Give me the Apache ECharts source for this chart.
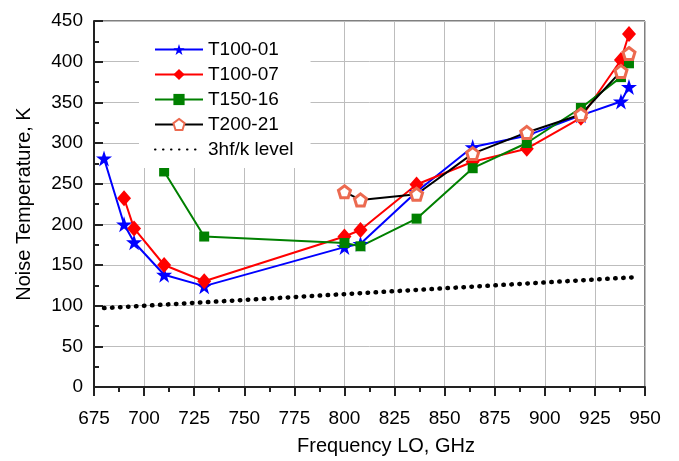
<!DOCTYPE html>
<html>
<head>
<meta charset="utf-8">
<script src="https://cdn.jsdelivr.net/npm/echarts@6/dist/echarts.min.js"></script>
<style>
  html, body { margin: 0; padding: 0; background: #fff; }
  #chart { width: 679px; height: 461px; }
</style>
</head>
<body>
<div id="chart"></div>
<script>
// values
const freqT10001 = [680, 690, 695, 710, 730, 800, 808, 836, 864, 891, 918, 938, 942];
const tempT10001 = [281, 200, 178, 138, 124, 172, 176, 240, 295, 309, 334, 351, 369];

const freqT10007 = [690, 695, 710, 730, 800, 808, 836, 864, 891, 918, 938, 942];
const tempT10007 = [232, 195, 150, 130, 185, 193, 249, 277, 293, 331, 402, 434];

const freqT15016 = [710, 730, 800, 808, 836, 864, 891, 918, 938, 942];
const tempT15016 = [265, 185, 177, 173, 207, 269, 300, 343, 381, 398];

const freqT20021 = [800, 808, 836, 864, 891, 918, 938, 942];
const tempT20021 = [240, 230, 237, 287, 313, 335, 388, 410];

const freqLevel = [680, 945];
const tempLevel = [97, 135];

const xTicks = { min: 675, max: 950, step: 25 };
const yTicks = { min: 0, max: 450, step: 50 };

const FONT = "'Liberation Sans', Arial, sans-serif";
const STAR = 'path://M12,0 L14.9,8.6 L24,8.6 L16.6,14 L19.4,22.6 L12,17.3 L4.6,22.6 L7.4,14 L0,8.6 L9.1,8.6 Z';
const PENTA = 'path://M10,0 L20,7.3 L16.2,19 L3.8,19 L0,7.3 Z';

function pairs(xs, ys) {
    return xs.map((x, i) => [x, ys[i]]);
}

function lineSeries(name, xs, ys, lineColor, extra) {
    return Object.assign({
        name: name,
        type: 'line',
        data: pairs(xs, ys),
        lineStyle: { color: lineColor, width: 2 },
        itemStyle: { color: lineColor },
        symbolSize: 12,
        animation: false
    }, extra);
}

const chart = echarts.init(document.getElementById('chart'), null, { renderer: 'canvas' });

chart.setOption({
    backgroundColor: '#fff',
    animation: false,
    textStyle: { fontFamily: FONT },
    grid: { left: 94, right: 34, top: 21, bottom: 71, show: true, borderColor: '#000', borderWidth: 1 },
    legend: {
        left: 139,
        top: 22,
        orient: 'vertical',
        backgroundColor: '#fff',
        padding: [18, 17, 9, 15],
        itemWidth: 48,
        itemHeight: 14,
        itemGap: 6,
        textStyle: { fontSize: 19, color: '#000', fontFamily: FONT },
        data: ['T100-01', 'T100-07', 'T150-16', 'T200-21', '3hf/k level']
    },
    xAxis: {
        type: 'value',
        min: xTicks.min,
        max: xTicks.max,
        interval: xTicks.step,
        name: 'Frequency LO, GHz',
        nameLocation: 'middle',
        nameGap: 49,
        nameTextStyle: { fontSize: 20, color: '#000', fontFamily: FONT, padding: [0, 0, 0, 33] },
        axisLine: { show: true, onZero: false, lineStyle: { color: '#222', width: 2 } },
        axisTick: { show: true, inside: false, length: 9, lineStyle: { color: '#222', width: 2 } },
        minorTick: { show: true, splitNumber: 2, length: 5, lineStyle: { color: '#222', width: 2 } },
        axisLabel: { fontSize: 19, color: '#000', margin: 22, fontFamily: FONT },
        splitLine: { show: true, lineStyle: { color: '#bdbdbd', width: 1 } }
    },
    yAxis: {
        type: 'value',
        min: yTicks.min,
        max: yTicks.max,
        interval: yTicks.step,
        name: 'Noise Temperature, K',
        nameLocation: 'middle',
        nameGap: 60,
        nameTextStyle: { fontSize: 20, color: '#000', fontFamily: FONT },
        axisLine: { show: true, onZero: false, lineStyle: { color: '#222', width: 2 } },
        axisTick: { show: true, inside: true, length: 9, lineStyle: { color: '#222', width: 2 } },
        minorTick: { show: true, splitNumber: 2, length: 5, lineStyle: { color: '#222', width: 2 } },
        axisLabel: { fontSize: 19, color: '#000', margin: 11, fontFamily: FONT },
        splitLine: { show: true, lineStyle: { color: '#bdbdbd', width: 1 } }
    },
    series: [
        lineSeries('T100-01', freqT10001, tempT10001, '#0000ff', { symbol: STAR, symbolSize: 16 }),
        lineSeries('T100-07', freqT10007, tempT10007, '#ff0000', { symbol: 'diamond', symbolSize: [14, 16] }),
        lineSeries('T150-16', freqT15016, tempT15016, '#008000', { symbol: 'rect', symbolSize: 10 }),
        lineSeries('T200-21', freqT20021, tempT20021, '#000000', {
            symbol: PENTA,
            symbolSize: 12,
            itemStyle: { color: '#ffffff', borderColor: '#ec6a50', borderWidth: 3 }
        }),
        {
            name: '3hf/k level',
            type: 'line',
            data: pairs(freqLevel, tempLevel),
            symbol: 'circle',
            showSymbol: false,
            lineStyle: { color: '#000', width: 4.5, type: [0.5, 7.5], cap: 'round' },
            itemStyle: { color: 'rgba(0,0,0,0)' },
            animation: false
        }
    ]
});
</script>
</body>
</html>
